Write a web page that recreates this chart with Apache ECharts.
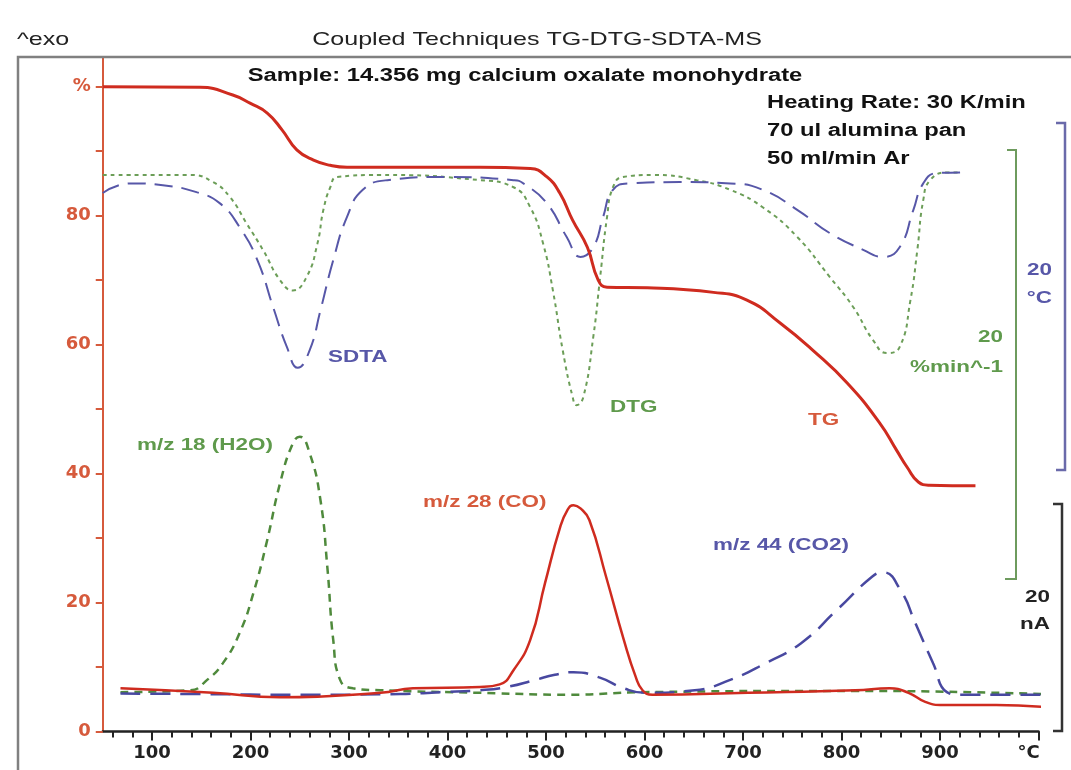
<!DOCTYPE html>
<html lang="en">
<head>
    <meta charset="UTF-8">
    <title>Coupled Techniques TG-DTG-SDTA-MS</title>
    <style>
        html, body { margin: 0; padding: 0; background: #fff; }
        #main { width: 1071px; height: 770px; }
    </style>
</head>
<body>
    <div id="main"></div>
    <script src="https://cdn.jsdelivr.net/npm/echarts@6/dist/echarts.min.js"></script>
    <script>
        // temperature (°C) / plotted value (left % scale) pairs
        var tgData = [[50,100],[149,99.9],[182,98.7],[200,97.4],[217,95.9],[232,93.3],[247,90.2],[264,88.6],[281,87.8],[298,87.5],[433,87.5],[484,87.3],[501,86],[514,83.5],[527,79.3],[542,75.1],[553,70],[562,68.9],[603,68.8],[670,68.1],[704,66.9],[738,63.3],[771,59.1],[806,54],[839,47.8],[856,43.6],[867,40.9],[878,38.7],[889,38.2],[936,38.1]];
        var dtgData = [[50,86.3],[139,86.3],[162,85.2],[179,82.9],[196,78.8],[213,74.6],[230,70],[243,68.4],[257,70.5],[268,75.7],[274,80.9],[281,84.4],[288,86],[332,86.3],[433,85.5],[467,84.4],[484,81.3],[497,75.7],[507,68.4],[517,59.1],[527,51.9],[531,50.6],[538,51.9],[548,61.2],[555,70.5],[562,79.8],[568,84.4],[578,86],[609,86.3],[653,85.5],[687,84],[720,81.3],[755,76.7],[788,70.5],[812,65.8],[832,60.7],[846,58.7],[859,59.6],[870,66.9],[877,74.7],[883,82.4],[890,85.5],[907,86.7],[920,86.7]];
        var sdtaData = [[50,83.5],[78,85],[111,84.7],[146,83.6],[169,81.9],[189,78.2],[207,73.1],[223,65.8],[237,59.6],[248,56.4],[260,59.1],[271,65.3],[284,73.1],[298,79.8],[314,84],[339,85.5],[400,86],[467,85.5],[477,85],[501,81.9],[521,76.7],[535,73.6],[548,75.1],[558,79.8],[568,84],[585,85],[636,85.2],[687,85],[720,84],[755,80.9],[788,77.3],[822,74.7],[842,73.6],[859,75.1],[873,80.9],[883,85],[897,86.6],[927,86.7]];
        var h2oData = [[68,6.1],[139,6.4],[156,8],[172,10.6],[189,15.3],[203,21.5],[217,29.7],[230,38.5],[243,44.7],[250,45.7],[260,43.2],[271,35.9],[278,25.5],[284,14.2],[291,8],[304,6.7],[332,6.4],[433,6],[525,5.7],[598,6.1],[814,6.3],[1005,5.8]];
        var coData = [[68,6.7],[162,6],[230,5.3],[332,6],[365,6.7],[433,6.9],[453,7.3],[467,9.5],[484,14.2],[499,23],[514,31.5],[522,34.4],[528,35.1],[535,34.6],[544,32.8],[561,24],[579,14.2],[591,8.5],[598,6.4],[608,5.7],[705,6],[814,6.4],[849,6.7],[868,6],[885,4.6],[903,4.1],[957,4.1],[1005,3.8]];
        var co2Data = [[68,5.9],[149,5.8],[250,5.7],[352,5.8],[392,6.1],[433,6.4],[460,6.9],[489,8],[509,8.8],[528,9.2],[554,8.4],[579,6.7],[601,6],[651,6.4],[687,8],[723,10.6],[759,13.7],[795,18.8],[831,24],[842,24.7],[860,21.9],[875,16.8],[893,10.6],[907,6.1],[921,5.7],[1005,5.7]];

        // axis ticks / labels
        var xMinorTicks = [60,80,100,120,140,160,180,200,220,240,260,280,300,320,340,360,380,400,420,440,460,480,500,520,540,560,580,600,620,640,660,680,700,720,740,760,780,800,820,840,860,880,900,920,940,960,980,1000];
        var xMajorTicks = [100,200,300,400,500,600,700,800,900,1000];
        var xLabels = [100,200,300,400,500,600,700,800,900,990];
        var yTicks = [0,10,20,30,40,50,60,70,80,90,100];
        var yLabels = [0,20,40,60,80,100];

        var red = '#cf2b1f', axisRed = '#d65a3c';
        var green = '#5f9a4c', greenDot = '#6c9e58';
        var blue = '#5757a8';

        var SX = 1.32; // the source picture is stretched horizontally
        function txt(x, y, text, font, fill, align) {
            return {
                type: 'text', x: x, y: y, scaleX: SX, z: 100,
                style: { text: text, font: font, fill: fill, textAlign: align || 'left', textVerticalAlign: 'middle' }
            };
        }
        function bracket(pts, color, w) {
            return { type: 'polyline', z: 90, shape: { points: pts }, style: { stroke: color, lineWidth: w, fill: null } };
        }

        var F = '"Liberation Sans", Arial, sans-serif';
        var myChart = echarts.init(document.getElementById('main'));

        var option = {
            animation: false,
            backgroundColor: '#fff',
            grid: { left: 102.75, right: 32.5, top: 57, bottom: 38.5 },
            xAxis: [{
                type: 'value', min: 50, max: 1000, position: 'bottom',
                axisLine: { lineStyle: { color: '#222', width: 2.5 } },
                axisTick: { customValues: xMinorTicks, length: 6, lineStyle: { color: '#222', width: 2 } },
                axisLabel: {
                    customValues: xLabels, margin: 13, color: '#222', fontSize: 18, fontWeight: 'bold', fontFamily: 'DejaVu Sans',
                    formatter: function (v) { return v === 990 ? '°C' : String(v); }
                },
                splitLine: { show: false }
            }, {
                type: 'value', min: 50, max: 1000, position: 'bottom', offset: 0,
                axisLine: { show: false },
                axisTick: { customValues: xMajorTicks, length: 9, lineStyle: { color: '#222', width: 2 } },
                axisLabel: { show: false },
                splitLine: { show: false }
            }],
            yAxis: {
                type: 'value', min: 0, max: 104.6,
                axisLine: { show: true, lineStyle: { color: axisRed, width: 2 } },
                axisTick: { customValues: yTicks, length: 7, lineStyle: { color: axisRed, width: 2 } },
                axisLabel: {
                    customValues: yLabels, margin: 12, color: axisRed, fontSize: 18, fontWeight: 'bold', fontFamily: 'DejaVu Sans',
                    formatter: function (v) { return v === 100 ? '%' : String(v); }
                },
                splitLine: { show: false }
            },
            series: [
                { name: 'm/z 18 (H2O)', type: 'line', data: h2oData, showSymbol: false, clip: false, smooth: 0.5,
                  lineStyle: { color: '#4f8a3c', width: 2.5, type: [8, 6] } },
                { name: 'm/z 44 (CO2)', type: 'line', data: co2Data, showSymbol: false, clip: false, smooth: 0.5,
                  lineStyle: { color: '#4848a0', width: 2.5, type: [20, 10] } },
                { name: 'm/z 28 (CO)', type: 'line', data: coData, showSymbol: false, clip: false, smooth: 0.5,
                  lineStyle: { color: red, width: 2.5 } },
                { name: 'DTG', type: 'line', data: dtgData, showSymbol: false, smooth: 0.5,
                  lineStyle: { color: greenDot, width: 2, type: [4, 4] } },
                { name: 'SDTA', type: 'line', data: sdtaData, showSymbol: false, smooth: 0.5,
                  lineStyle: { color: blue, width: 2, type: [18, 9] } },
                { name: 'TG', type: 'line', data: tgData, showSymbol: false, smooth: 0.5,
                  lineStyle: { color: red, width: 3 } }
            ],
            graphic: [
                { type: 'rect', z: 1, shape: { x: 18, y: 57, width: 1100, height: 800 }, style: { fill: null, stroke: '#808080', lineWidth: 2.5 } },
                txt(17, 40, '^exo', '19px ' + F, '#222'),
                txt(537, 40, 'Coupled Techniques TG-DTG-SDTA-MS', '19px ' + F, '#222', 'center'),
                txt(525, 76, 'Sample: 14.356 mg calcium oxalate monohydrate', 'bold 18px ' + F, '#111', 'center'),
                txt(767, 103, 'Heating Rate: 30 K/min', 'bold 18px ' + F, '#111'),
                txt(767, 131, '70 ul alumina pan', 'bold 18px ' + F, '#111'),
                txt(767, 159, '50 ml/min Ar', 'bold 18px ' + F, '#111'),
                txt(328, 357, 'SDTA', 'bold 17px ' + F, blue),
                txt(610, 407, 'DTG', 'bold 17px ' + F, green),
                txt(808, 420, 'TG', 'bold 17px ' + F, axisRed),
                txt(1003, 337, '20', 'bold 17px ' + F, green, 'right'),
                txt(1003, 367, '%min^-1', 'bold 17px ' + F, green, 'right'),
                txt(1052, 270, '20', 'bold 17px ' + F, blue, 'right'),
                txt(1052, 298, '°C', 'bold 17px ' + F, blue, 'right'),
                txt(137, 445, 'm/z 18 (H2O)', 'bold 17px ' + F, green),
                txt(423, 502, 'm/z 28 (CO)', 'bold 17px ' + F, axisRed),
                txt(713, 545, 'm/z 44 (CO2)', 'bold 17px ' + F, blue),
                txt(1050, 597, '20', 'bold 17px ' + F, '#222', 'right'),
                txt(1050, 624, 'nA', 'bold 17px ' + F, '#222', 'right'),
                bracket([[1056, 123], [1065, 123], [1065, 470], [1056, 470]], '#6a6aaa', 2.5),
                bracket([[1007, 150], [1016, 150], [1016, 579], [1005, 579]], '#6e9b5e', 2),
                bracket([[1053, 504], [1062, 504], [1062, 731], [1053, 731]], '#333', 2.5)
            ]
        };

        myChart.setOption(option);
    </script>
</body>
</html>
